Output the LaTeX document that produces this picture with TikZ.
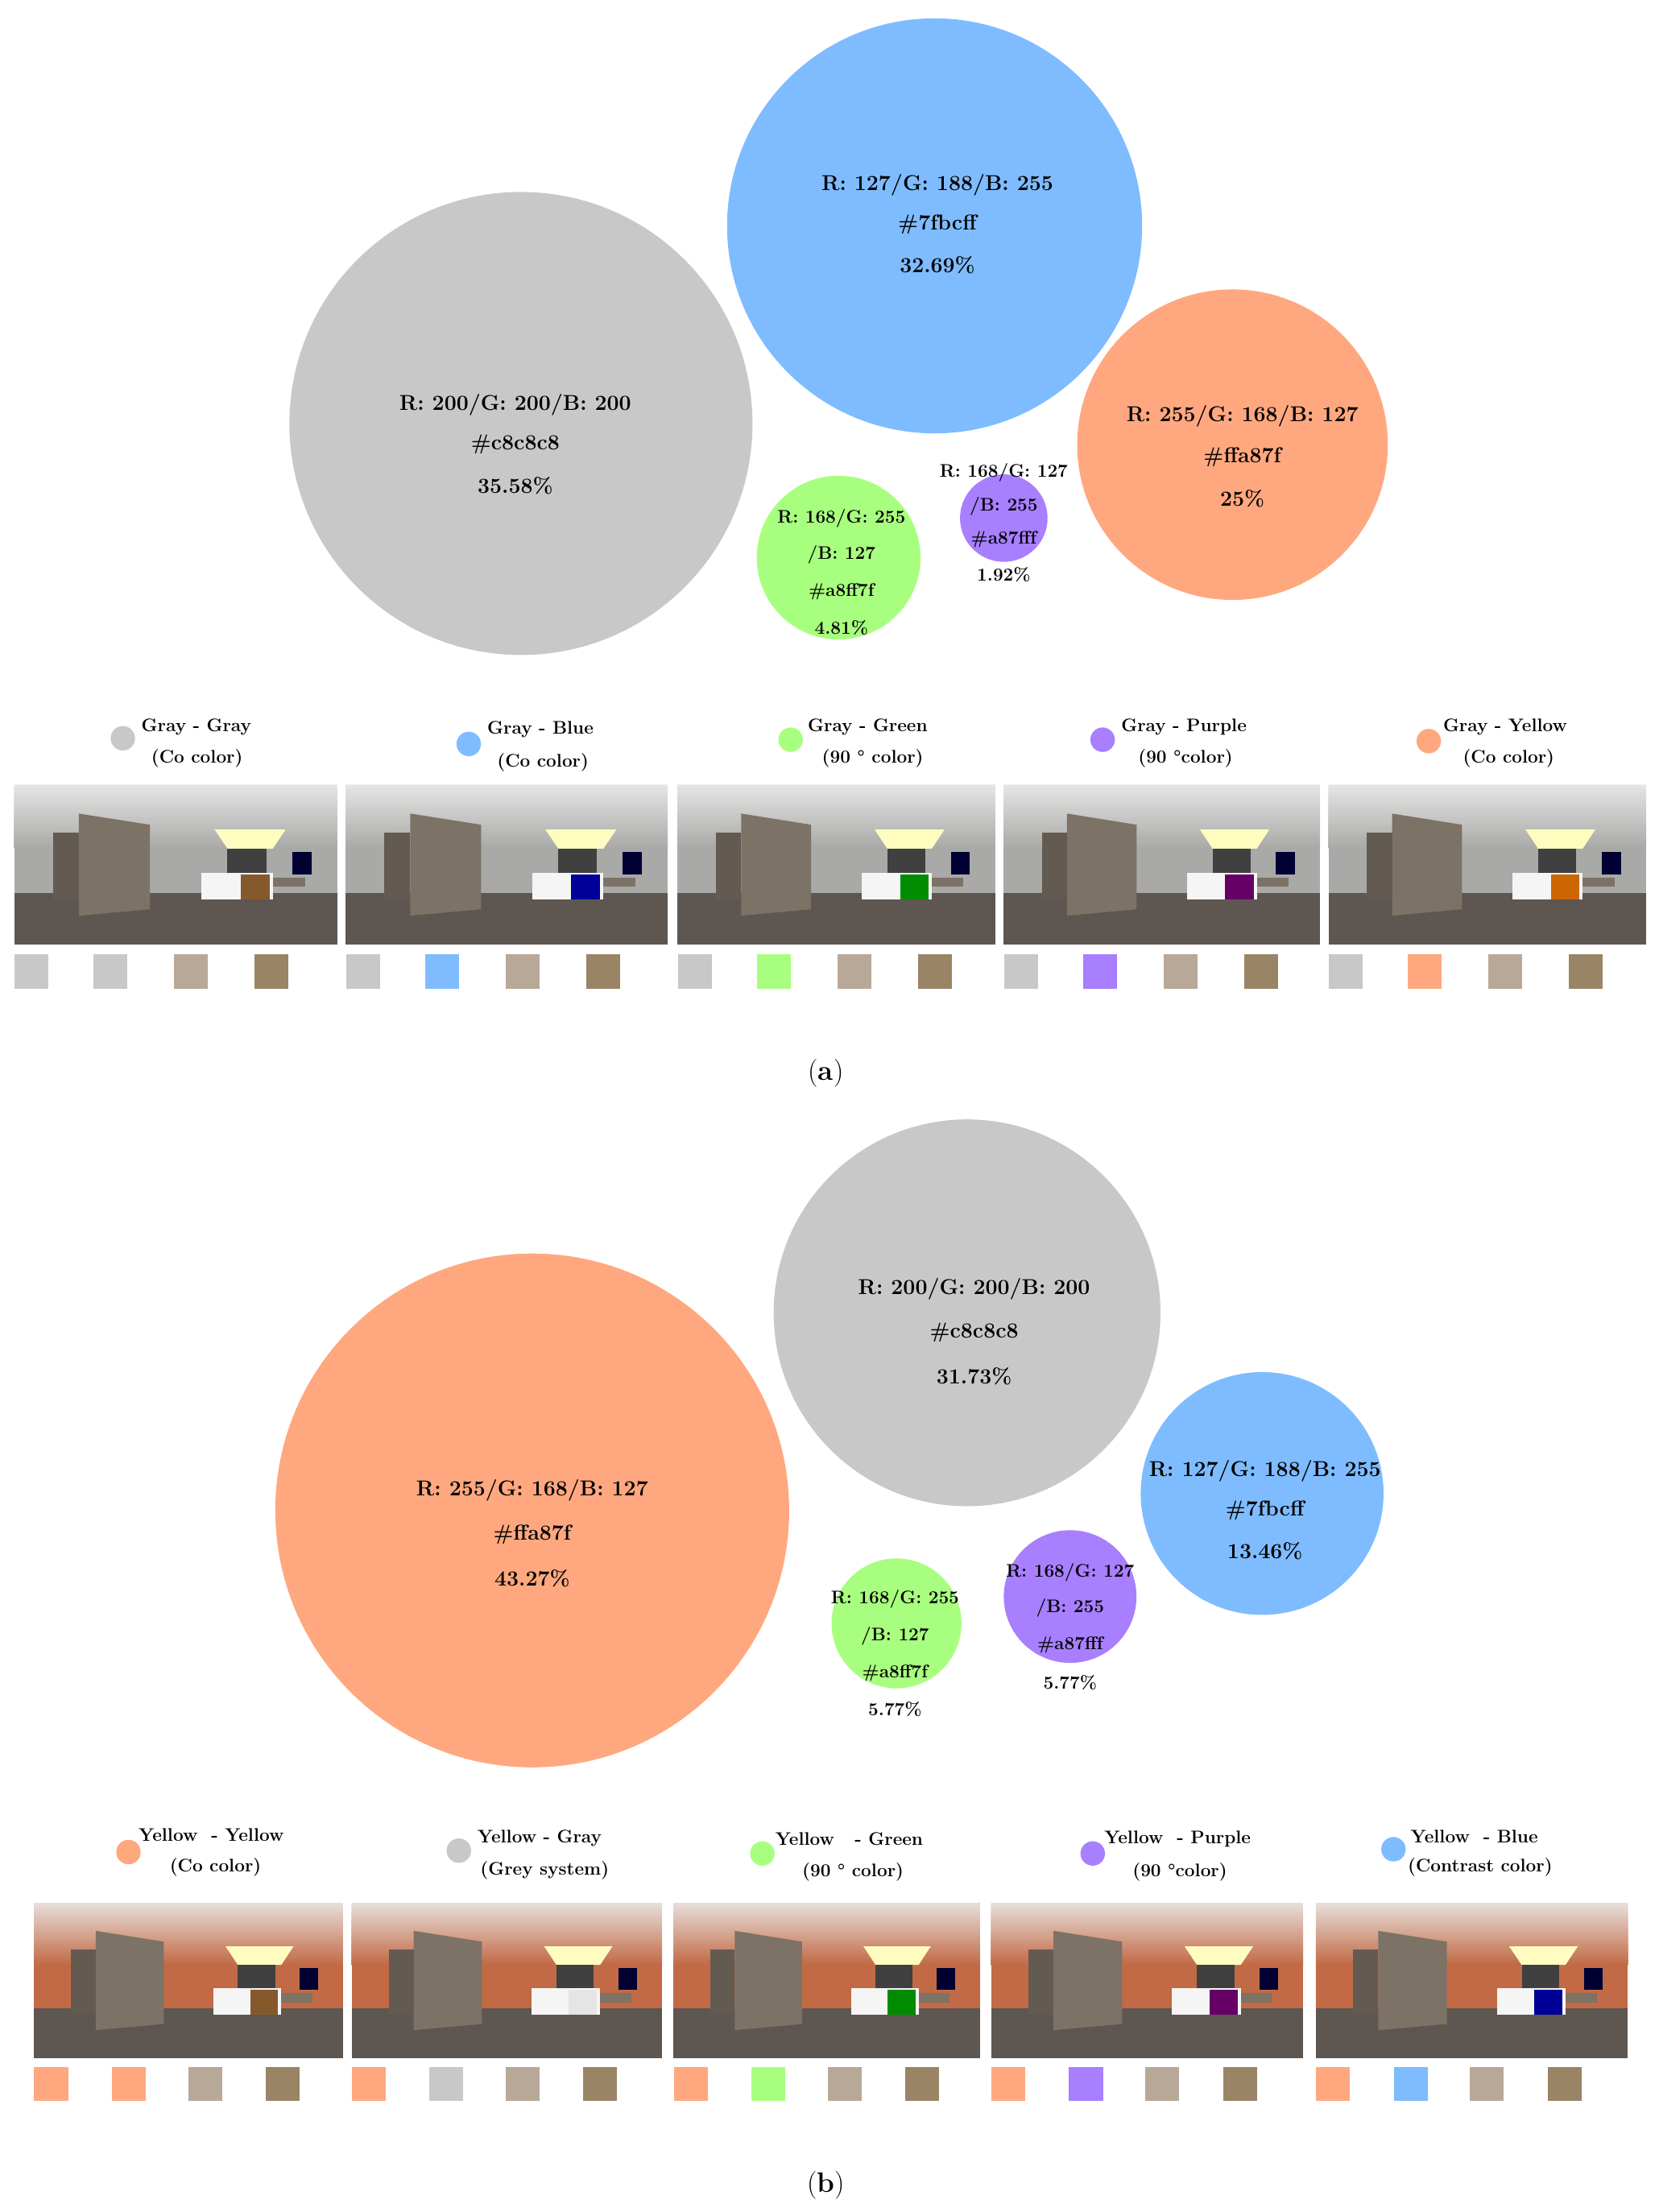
\documentclass[tikz,border=0pt]{standalone}
\usepackage{tikz}
\definecolor{cgray}{HTML}{C8C8C8}
\definecolor{cblue}{HTML}{7FBCFF}
\definecolor{corange}{HTML}{FFA87F}
\definecolor{cgreen}{HTML}{A8FF7F}
\definecolor{cpurple}{HTML}{A87FFF}
\definecolor{ctaupe}{HTML}{B8A898}
\definecolor{cbrown}{HTML}{9A8466}
\definecolor{wallgray}{HTML}{A9A9A7}
\definecolor{wallorange}{HTML}{C26A45}
\definecolor{floorc}{HTML}{5E5650}
\definecolor{woodc}{HTML}{7C7266}
\tikzset{
  ctext/.style={font=\fontsize{13}{15}\selectfont\bfseries, inner sep=0pt},
  stext/.style={font=\fontsize{11}{13}\selectfont\bfseries, inner sep=0pt},
  ltext/.style={font=\fontsize{11}{13}\selectfont\bfseries, anchor=west, inner sep=0pt},
  dot/.style={circle, minimum size=5.2mm, inner sep=0pt},
  swatch/.style={minimum width=7.2mm, minimum height=7.2mm, inner sep=0pt, anchor=north west},
}
% panorama sketch: x, y, width, height, wall colour, blanket colour
\newcommand{\roomphoto}[6]{%
  \begin{scope}[shift={(#1,#2)}]
    \fill[#5] (0,0) rectangle (#3,#4);
    \shade[top color=white!85!gray, bottom color=#5, opacity=0.9] (0,0) rectangle (#3,{0.4*#4});
    \fill[floorc] (0,{0.68*#4}) rectangle (#3,#4);
    \fill[woodc] ({0.2*#3},{0.18*#4}) -- ({0.42*#3},{0.25*#4}) -- ({0.42*#3},{0.78*#4}) -- ({0.2*#3},{0.82*#4}) -- cycle;
    \fill[woodc!80!black] ({0.12*#3},{0.3*#4}) rectangle ({0.2*#3},{0.72*#4});
    \fill[yellow!25!white] ({0.62*#3},{0.28*#4}) -- ({0.84*#3},{0.28*#4}) -- ({0.8*#3},{0.4*#4}) -- ({0.66*#3},{0.4*#4}) -- cycle;
    \fill[black!75] ({0.66*#3},{0.4*#4}) rectangle ({0.78*#3},{0.55*#4});
    \fill[blue!20!black] ({0.86*#3},{0.42*#4}) rectangle ({0.92*#3},{0.56*#4});
    \fill[white!92!gray] ({0.58*#3},{0.55*#4}) rectangle ({0.8*#3},{0.72*#4});
    \fill[#6] ({0.7*#3},{0.56*#4}) rectangle ({0.79*#3},{0.72*#4});
    \fill[woodc] ({0.8*#3},{0.58*#4}) rectangle ({0.9*#3},{0.64*#4});
  \end{scope}}
\begin{document}
\begin{tikzpicture}[x=0.3mm,y=-0.3mm]
\useasboundingbox (0,0) rectangle (1175,1567);

% (a) circles
\node[circle, fill=cgray, minimum size=98.4mm] (aGray) at (369,300) {};
\node[circle, fill=cblue, minimum size=88.2mm] (aBlue) at (662,160) {};
\node[circle, fill=corange, minimum size=66mm] (aOrange) at (873,315) {};
\node[circle, fill=cgreen, minimum size=34.8mm] (aGreen) at (594,395) {};
\node[circle, fill=cpurple, minimum size=18.6mm] (aPurple) at (711,367) {};
\node[ctext] (aGray1) at (365,287) {R: 200/G: 200/B: 200};
\node[ctext] (aGray2) at (365,315) {\#c8c8c8};
\node[ctext] (aGray3) at (365,344) {35.58\%};
\node[ctext] (aBlue1) at (664,131) {R: 127/G: 188/B: 255};
\node[ctext] (aBlue2) at (664,159) {\#7fbcff};
\node[ctext] (aBlue3) at (664,188) {32.69\%};
\node[ctext] (aOrange1) at (880,295) {R: 255/G: 168/B: 127};
\node[ctext] (aOrange2) at (880,324) {\#ffa87f};
\node[ctext] (aOrange3) at (880,353) {25\%};
\node[stext] (aGreen1) at (596,367) {R: 168/G: 255};
\node[stext] (aGreen2) at (596,393) {/B: 127};
\node[stext] (aGreen3) at (596,419) {\#a8ff7f};
\node[stext] (aGreen4) at (596,445) {4.81\%};
\node[stext] (aPurple1) at (711,335) {R: 168/G: 127};
\node[stext] (aPurple2) at (711,359) {/B: 255};
\node[stext] (aPurple3) at (711,382) {\#a87fff};
\node[stext] (aPurple4) at (711,407) {1.92\%};

% (a) legend
\node[dot, fill=cgray] (aDot1) at (87,523) {};
\node[ltext] (aLeg1) at (100,515) {Gray - Gray};
\node[ltext] (aSub1) at (107,537) {(Co color)};
\node[dot, fill=cblue] (aDot2) at (332,527) {};
\node[ltext] (aLeg2) at (345,517) {Gray - Blue};
\node[ltext] (aSub2) at (352,540) {(Co color)};
\node[dot, fill=cgreen] (aDot3) at (560,524) {};
\node[ltext] (aLeg3) at (572,515) {Gray - Green};
\node[ltext] (aSub3) at (582,537) {(90 ° color)};
\node[dot, fill=cpurple] (aDot4) at (781,524) {};
\node[ltext] (aLeg4) at (794,515) {Gray - Purple};
\node[ltext] (aSub4) at (806,537) {(90 °color)};
\node[dot, fill=corange] (aDot5) at (1012,525) {};
\node[ltext] (aLeg5) at (1022,515) {Gray - Yellow};
\node[ltext] (aSub5) at (1036,537) {(Co color)};

% (a) photos and swatches
\foreach \px/\pw/\sw/\bl in {10/229/cgray/brown!70!black, 245/228/cblue/blue!60!black, 480/225/cgreen/green!55!black, 711/224/cpurple/violet!80!black, 941/225/corange/orange!80!black}{
  \roomphoto{\px}{556}{\pw}{113}{wallgray}{\bl}
  \node[swatch, fill=cgray] at (\px,676) {};
  \node[swatch, fill=\sw] at (\px+56,676) {};
  \node[swatch, fill=ctaupe] at (\px+113,676) {};
  \node[swatch, fill=cbrown] at (\px+170,676) {};
}
\node[font=\fontsize{17}{19}\selectfont] (capA) at (585,760) {(\textbf{a})};

% (b) circles
\node[circle, fill=cgray, minimum size=82.2mm] (bGray) at (685,930) {};
\node[circle, fill=corange, minimum size=109.2mm] (bOrange) at (377,1070) {};
\node[circle, fill=cblue, minimum size=51.6mm] (bBlue) at (894,1058) {};
\node[circle, fill=cgreen, minimum size=27.6mm] (bGreen) at (635,1150) {};
\node[circle, fill=cpurple, minimum size=28.2mm] (bPurple) at (758,1131) {};
\node[ctext] (bGray1) at (690,913) {R: 200/G: 200/B: 200};
\node[ctext] (bGray2) at (690,944) {\#c8c8c8};
\node[ctext] (bGray3) at (690,975) {31.73\%};
\node[ctext] (bOrange1) at (377,1056) {R: 255/G: 168/B: 127};
\node[ctext] (bOrange2) at (377,1087) {\#ffa87f};
\node[ctext] (bOrange3) at (377,1118) {43.27\%};
\node[ctext] (bBlue1) at (896,1042) {R: 127/G: 188/B: 255};
\node[ctext] (bBlue2) at (896,1070) {\#7fbcff};
\node[ctext] (bBlue3) at (896,1099) {13.46\%};
\node[stext] (bGreen1) at (634,1133) {R: 168/G: 255};
\node[stext] (bGreen2) at (634,1159) {/B: 127};
\node[stext] (bGreen3) at (634,1185) {\#a8ff7f};
\node[stext] (bGreen4) at (634,1211) {5.77\%};
\node[stext] (bPurple1) at (758,1114) {R: 168/G: 127};
\node[stext] (bPurple2) at (758,1139) {/B: 255};
\node[stext] (bPurple3) at (758,1165) {\#a87fff};
\node[stext] (bPurple4) at (758,1192) {5.77\%};

% (b) legend
\node[dot, fill=corange] (bDot1) at (91,1312) {};
\node[ltext] (bLeg1) at (98,1300) {Yellow\ \ - Yellow};
\node[ltext] (bSub1) at (120,1323) {(Co color)};
\node[dot, fill=cgray] (bDot2) at (325,1311) {};
\node[ltext] (bLeg2) at (338,1302) {Yellow - Gray};
\node[ltext] (bSub2) at (340,1325) {(Grey system)};
\node[dot, fill=cgreen] (bDot3) at (540,1313) {};
\node[ltext] (bLeg3) at (549,1303) {Yellow\ \ \ - Green};
\node[ltext] (bSub3) at (568,1326) {(90 ° color)};
\node[dot, fill=cpurple] (bDot4) at (774,1313) {};
\node[ltext] (bLeg4) at (782,1303) {Yellow\ \ - Purple};
\node[ltext] (bSub4) at (802,1326) {(90 °color)};
\node[dot, fill=cblue] (bDot5) at (987,1310) {};
\node[ltext] (bLeg5) at (999,1301) {Yellow\ \ - Blue};
\node[ltext] (bSub5) at (997,1323) {(Contrast color)};

% (b) photos and swatches
\foreach \px/\pw/\sw/\bl in {24/219/corange/brown!70!black, 249/220/cgray/white!80!gray, 477/217/cgreen/green!55!black, 702/221/cpurple/violet!80!black, 932/221/cblue/blue!60!black}{
  \roomphoto{\px}{1348}{\pw}{110}{wallorange}{\bl}
  \node[swatch, fill=corange] at (\px,1464) {};
  \node[swatch, fill=\sw] at (\px+55,1464) {};
  \node[swatch, fill=ctaupe] at (\px+109,1464) {};
  \node[swatch, fill=cbrown] at (\px+164,1464) {};
}
\node[font=\fontsize{17}{19}\selectfont] (capB) at (585,1548) {(\textbf{b})};
\end{tikzpicture}
\end{document}
